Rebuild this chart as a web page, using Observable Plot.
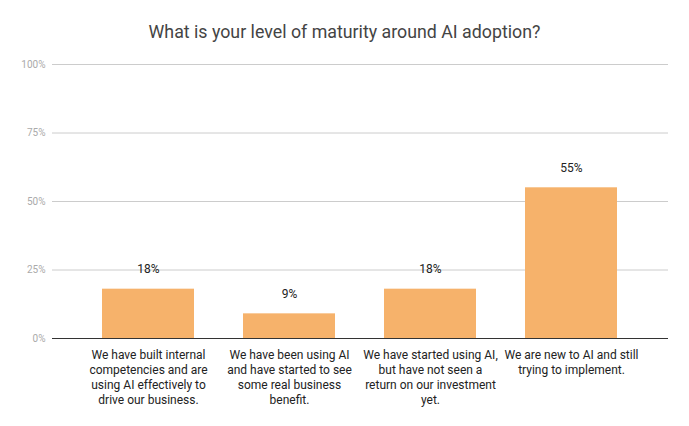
<!DOCTYPE html>
<html>
<head>
<meta charset="utf-8">
<script src="https://cdn.jsdelivr.net/npm/d3@7"></script>
<script src="https://cdn.jsdelivr.net/npm/@observablehq/plot@0.6"></script>
<style>
  html, body { margin: 0; padding: 0; background: #fff; }
  #wrap { position: relative; width: 689px; height: 426px; font-family: Roboto, sans-serif; }
  #title { position: absolute; left: 0; top: 20px; width: 689px; text-align: center; font-size: 17.8px; color: #444; line-height: 24px; }
  svg { display: block; }
</style>
</head>
<body>
<div id="wrap"><div id="title">What is your level of maturity around AI adoption?</div></div>
<script>
const categories = [
  "We have built internal\ncompetencies and are\nusing AI effectively to\ndrive our business.",
  "We have been using AI\nand have started to see\nsome real business\nbenefit.",
  "We have started using AI,\nbut have not seen a\nreturn on our investment\nyet.",
  "We are new to AI and still\ntrying to implement."
];
const values = [18, 9, 18, 55];
const yTicks = [0, 25, 50, 75, 100];

const data = categories.map((c, i) => ({category: c, value: values[i]}));

const chart = Plot.plot({
  width: 689,
  height: 426,
  marginTop: 64,
  marginBottom: 88,
  marginLeft: 52,
  marginRight: 21,
  style: {fontFamily: "Roboto, sans-serif", background: "transparent"},
  x: {domain: categories, range: [76, 643], paddingInner: 0.35, paddingOuter: 0.175, axis: null},
  y: {domain: [0, 100], ticks: yTicks, tickFormat: d => d + "%", label: null},
  marks: [
    Plot.ruleY(yTicks.filter(d => d > 0), {stroke: "#ccc", strokeWidth: 1}),
    Plot.axisY({ticks: yTicks, tickFormat: d => d + "%", tickSize: 0, tickPadding: 7, fontSize: 10, color: "#aaa", label: null}),
    Plot.barY(data, {x: "category", y: "value", fill: "#F6B26B"}),
    Plot.ruleY([0], {stroke: "#333", strokeWidth: 1}),
    Plot.text(data, {x: "category", y: "value", text: d => d.value + "%", dy: -20, fontSize: 12, fill: "#222"}),
    Plot.text(data, {x: "category", y: 0, text: "category", lineAnchor: "top", dy: 10, lineHeight: 1.25, fontSize: 12, fill: "#222"})
  ]
});
document.getElementById("wrap").appendChild(chart);
chart.style.position = "absolute";
chart.style.left = "0";
chart.style.top = "0";
</script>
</body>
</html>
